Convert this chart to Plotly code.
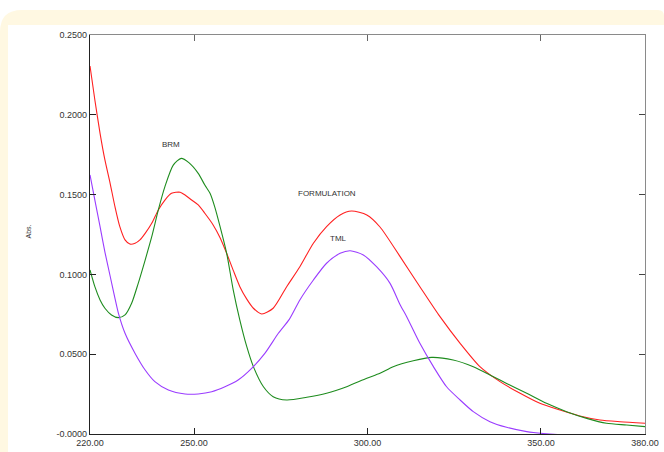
import plotly.graph_objects as go

# ---------------- data ----------------
form_x = [220, 221.4, 222.9, 224.3, 225.8, 227.2, 228.6, 230.1, 231.5, 233.0, 234.4, 235.9,
          237.8, 239.7, 241.6, 243.5, 246.0, 247.4, 249.3, 251.2, 253.1, 255.5, 257.5, 259.4,
          261.3, 263.2, 265.2, 267.1, 269.5, 272.8, 276.7, 280.5, 284.4, 288.2, 292.1, 295.4,
          299.8, 303.6, 309.4, 315.1, 320.9, 326.7, 332.4, 338.2, 344.0, 349.7, 355.5, 361.2,
          367.0, 372.8, 380]
form_y = [0.2306, 0.2093, 0.1884, 0.1717, 0.1571, 0.1424, 0.1299, 0.1216, 0.1190, 0.1195, 0.1216, 0.1257,
          0.1320, 0.1404, 0.1466, 0.1508, 0.1515, 0.1497, 0.1466, 0.1435, 0.1383, 0.1310, 0.1230, 0.1132,
          0.1025, 0.0923, 0.0845, 0.0788, 0.0752, 0.0788, 0.0923, 0.1048, 0.1195, 0.1299, 0.1372, 0.1397,
          0.1372, 0.1297, 0.1111, 0.0923, 0.0735, 0.0568, 0.0422, 0.0328, 0.0255, 0.0192, 0.0150, 0.0113,
          0.0088, 0.0077, 0.0067]

brm_x = [220, 221.4, 222.9, 224.3, 226.2, 228.2, 230.1, 232.0, 233.9, 235.9, 237.8, 239.7, 241.6,
         244.0, 246.3, 248.5, 251.2, 253.1, 254.6, 256.0, 257.5, 259.4, 261.3, 263.2, 265.2, 267.1,
         270.0, 272.8, 276.7, 282.5, 288.2, 294.0, 299.8, 303.6, 307.4, 313.2, 318.5, 324.7, 330.5,
         336.3, 340.1, 345.9, 351.6, 357.4, 363.2, 368.9, 374.7, 380]
brm_y = [0.1028, 0.0923, 0.0840, 0.0788, 0.0746, 0.0729, 0.0746, 0.0819, 0.0944, 0.1090, 0.1236, 0.1404, 0.1550,
         0.1685, 0.1727, 0.1700, 0.1633, 0.1560, 0.1508, 0.1420, 0.1299, 0.1132, 0.0902, 0.0714, 0.0547, 0.0422,
         0.0296, 0.0234, 0.0213, 0.0230, 0.0255, 0.0296, 0.0349, 0.0380, 0.0422, 0.0459, 0.0480, 0.0464, 0.0422,
         0.0359, 0.0317, 0.0255, 0.0192, 0.0140, 0.0098, 0.0067, 0.0056, 0.0046]

tml_x = [220, 221.4, 222.9, 224.3, 225.8, 227.2, 228.2, 230.1, 233.0, 235.9, 238.7, 242.6, 247.4,
         251.2, 255.1, 258.9, 262.7, 266.6, 270.4, 274.3, 277.5, 280.5, 284.4, 288.2, 292.1, 295.0,
         298.8, 302.6, 306.5, 309.4, 311.3, 315.1, 319.0, 322.8, 326.7, 330.5, 335.3, 340.1, 345.9,
         350.7, 356.0, 362.0, 370.0, 380.0]
tml_y = [0.1623, 0.1466, 0.1299, 0.1140, 0.0990, 0.0850, 0.0756, 0.0631, 0.0505, 0.0401, 0.0328, 0.0276, 0.0251,
         0.0251, 0.0265, 0.0296, 0.0338, 0.0411, 0.0505, 0.0631, 0.0720, 0.0840, 0.0965, 0.1070, 0.1132, 0.1148,
         0.1122, 0.1048, 0.0944, 0.0810, 0.0735, 0.0568, 0.0422, 0.0296, 0.0213, 0.0140, 0.0077, 0.0042, 0.0015,
         0.0003, -0.0005, -0.0010, -0.0020, -0.0020]

x_ticks = [220, 250, 300, 350, 380]
x_tick_labels = ["220.00", "250.00", "300.00", "350.00", "380.00"]
y_ticks = [0, 0.05, 0.10, 0.15, 0.20, 0.25]
y_tick_labels = ["-0.0000", "0.0500", "0.1000", "0.1500", "0.2000", "0.2500"]

labels = ["BRM", "FORMULATION", "TML"]
label_x = [243.4, 288.2, 291.5]
label_y = [0.1811, 0.1504, 0.1222]

# ---------------- figure ----------------
W, H = 664, 452
L, R, T, B = 90, 19, 35, 18
pw, ph = W - L - R, H - T - B

def px(x):
    return (x - L) / pw

def py(y):
    return (H - B - y) / ph

TXT = "#333333"
FONT = "Liberation Sans"
SM = 0.7

fig = go.Figure()
fig.add_trace(go.Scatter(x=form_x, y=form_y, mode="lines",
                         line=dict(color="#ff2020", width=1.1, shape="spline", smoothing=SM),
                         name="FORMULATION", showlegend=False))
fig.add_trace(go.Scatter(x=brm_x, y=brm_y, mode="lines",
                         line=dict(color="#1e8c1e", width=1.1, shape="spline", smoothing=SM),
                         name="BRM", showlegend=False))
fig.add_trace(go.Scatter(x=tml_x, y=tml_y, mode="lines",
                         line=dict(color="#9a3cff", width=1.1, shape="spline", smoothing=SM),
                         name="TML", showlegend=False))
# invisible trace for the mirrored (top/right) axes
fig.add_trace(go.Scatter(x=[220], y=[0], xaxis="x2", yaxis="y2", mode="markers",
                         marker=dict(opacity=0), showlegend=False, hoverinfo="skip"))

for t, xx, yy in zip(labels, label_x, label_y):
    fig.add_annotation(x=xx, y=yy, text=t, showarrow=False,
                       font=dict(family=FONT, size=8, color=TXT))

fig.add_annotation(xref="paper", yref="paper", x=px(22), y=py(232), text="Abs.",
                   textangle=-90, showarrow=False, font=dict(family=FONT, size=7, color=TXT))

# cream frame with rounded top-left corner
cream = "#fff8e2"
r = 22
path = (f"M {px(0)},{py(10 + r)} Q {px(0)},{py(10)} {px(r)},{py(10)} "
        f"L {px(W - 6)},{py(10)} Q {px(W)},{py(10)} {px(W)},{py(16)} "
        f"L {px(W)},{py(H)} L {px(0)},{py(H)} Z")
fig.add_shape(type="path", path=path, xref="paper", yref="paper",
              fillcolor=cream, line=dict(width=0), layer="below")
fig.add_shape(type="rect", xref="paper", yref="paper", x0=px(8), x1=px(W + 2), y0=py(25), y1=py(H + 2),
              fillcolor="white", line=dict(width=0), layer="below")

axis_common = dict(ticks="inside", ticklen=6, showgrid=False, zeroline=False, automargin=False)

fig.update_layout(
    width=W, height=H, autosize=False,
    margin=dict(l=L, r=R, t=T, b=B, pad=0, autoexpand=False),
    paper_bgcolor="white", plot_bgcolor="rgba(0,0,0,0)",
    font=dict(family=FONT, size=9, color=TXT),
    xaxis=dict(range=[220, 380], tickvals=x_ticks, ticktext=x_tick_labels,
               showline=True, linecolor="#222222", linewidth=1.3, tickcolor="#222222",
               tickfont=dict(family=FONT, size=9, color=TXT), **axis_common),
    yaxis=dict(range=[0, 0.25], tickvals=y_ticks, ticktext=y_tick_labels,
               showline=True, linecolor="#222222", linewidth=1.3, tickcolor="#222222",
               tickfont=dict(family=FONT, size=9, color=TXT), **axis_common),
    xaxis2=dict(range=[220, 380], overlaying="x", side="top", tickvals=x_ticks,
                showticklabels=False, showline=True, linecolor="#8a8a8a", linewidth=1.3,
                tickcolor="#666666", **axis_common),
    yaxis2=dict(range=[0, 0.25], overlaying="y", side="right", tickvals=y_ticks,
                showticklabels=False, showline=True, linecolor="#8a8a8a", linewidth=1.3,
                tickcolor="#444444", **axis_common),
)

fig.write_html("out.html", config={"displayModeBar": False},
               post_script="document.body.style.margin='0';document.body.style.overflow='hidden';")
